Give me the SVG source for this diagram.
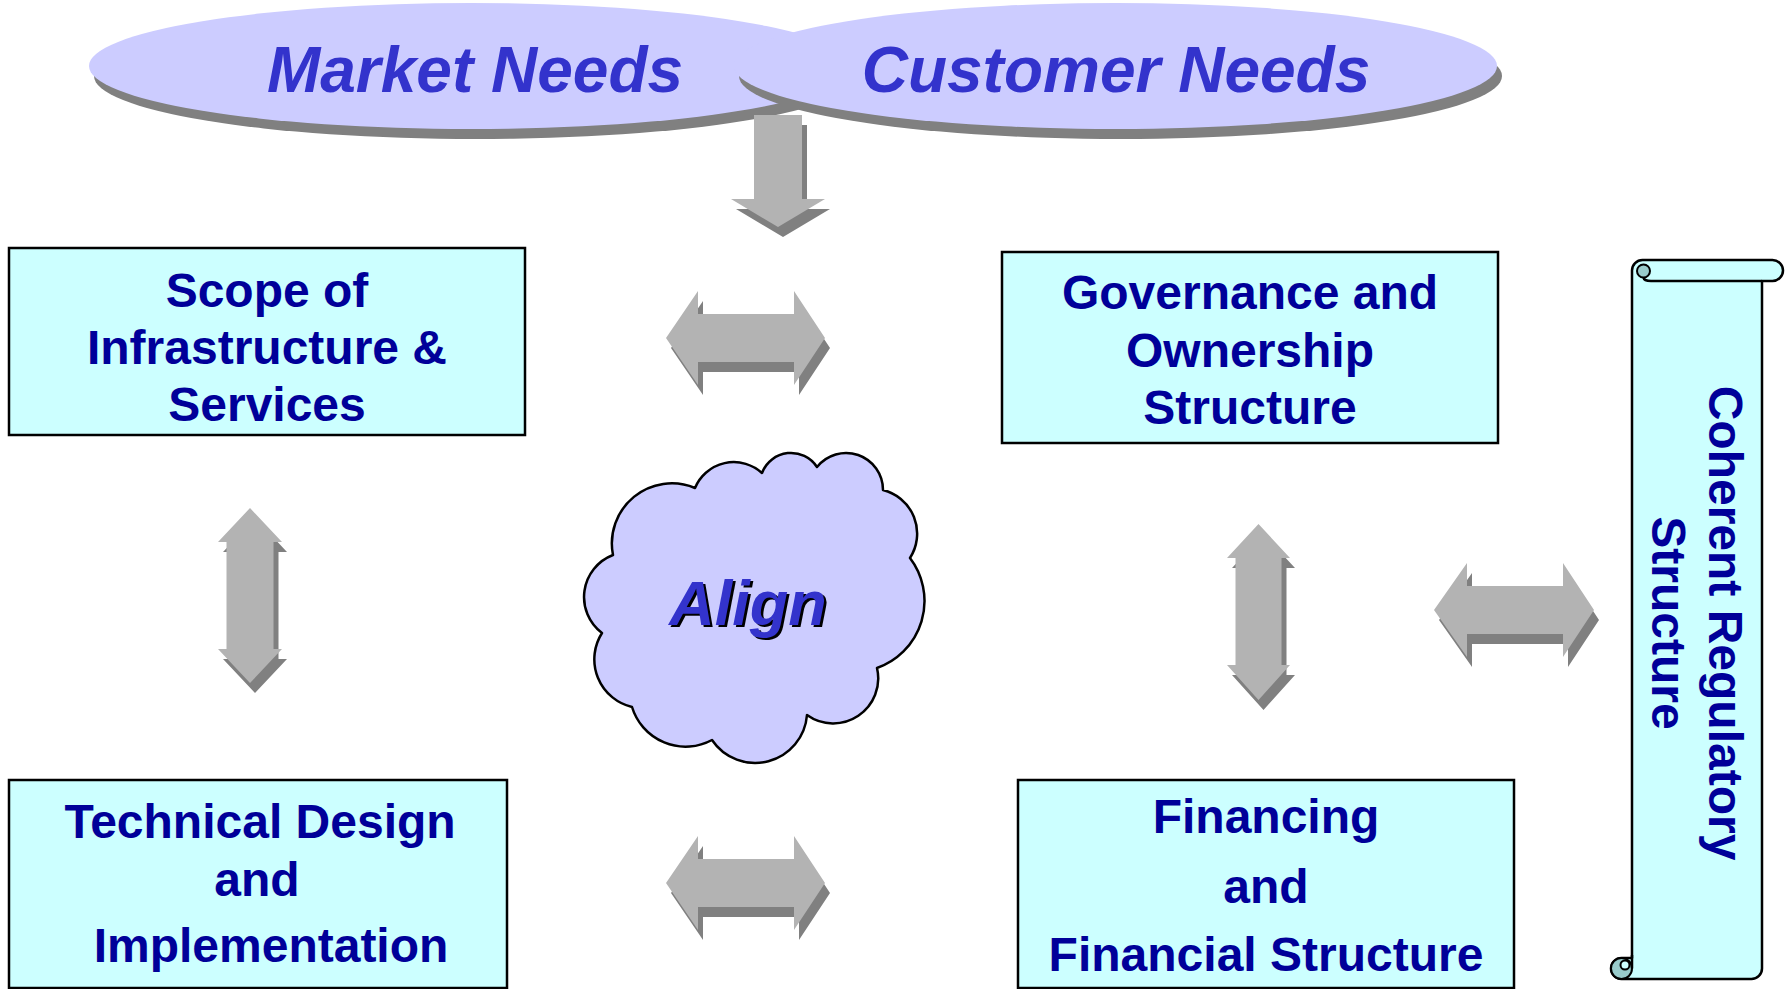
<svg xmlns="http://www.w3.org/2000/svg" xmlns:xlink="http://www.w3.org/1999/xlink" width="1785" height="989" viewBox="0 0 1785 989">
  <style>
    .box { fill: #CCFFFF; stroke: #000000; stroke-width: 2.5; }
    .boxtxt { font-family: "Liberation Sans", Arial, sans-serif; font-weight: bold; font-size: 48px; fill: #000099; text-anchor: middle; }
    .need { fill: #CCCCFF; }
    .needshadow { fill: #808080; }
    .needtxt { font-family: "Liberation Sans", Arial, sans-serif; font-weight: bold; font-style: italic; font-size: 64px; fill: #3333CC; text-anchor: middle; }
    .cloud { fill: #CCCCFF; stroke: #000000; stroke-width: 2.5; stroke-linejoin: round; }
    .aligntxt { font-family: "Liberation Sans", Arial, sans-serif; font-weight: bold; font-style: italic; font-size: 63px; text-anchor: middle; }
    .arrow { fill: #B3B3B3; }
    .arrowshadow { fill: #808080; }
    .scroll { fill: #CCFFFF; stroke: #000000; stroke-width: 2.5; stroke-linejoin: round; }
    .curl { fill: #99CCCC; stroke: #000000; stroke-width: 2; }
    .line { fill: none; stroke: #000000; stroke-width: 2.5; }
  </style>
  <defs>
    <!-- block arrow outlines; fill comes from the using element -->
    <polygon id="arrDown" points="754,115 802,115 802,199 825,199 778,227 731,199 754,199"/>
    <polygon id="arrTop" points="666,338 698,291 698,314 794,314 794,291 825,338 794,385 794,362 698,362 698,385"/>
    <polygon id="arrBottom" points="666,883 698,836 698,859 794,859 794,836 825,883 794,930 794,907 698,907 698,930"/>
    <polygon id="arrLeftV" points="250,508 282,542 273.5,542 273.5,649 282,649 250,683 218,649 226.5,649 226.5,542 218,542"/>
    <polygon id="arrRightV" points="1258.5,524 1290,558 1281.5,558 1281.5,665 1290,665 1258.5,700 1227,665 1235.5,665 1235.5,558 1227,558"/>
    <polygon id="arrRightH" points="1434,610 1467,563 1467,586 1563,586 1563,563 1594,610 1563,657 1563,634 1467,634 1467,657"/>
  </defs>

  <rect width="1785" height="989" fill="#FFFFFF"/>

  <!-- top ellipses -->
  <g id="market-needs">
    <ellipse class="needshadow" cx="476" cy="76" rx="382" ry="63"/>
    <ellipse class="need" cx="471" cy="66" rx="382" ry="63"/>
    <text class="needtxt" x="475" y="92">Market Needs</text>
  </g>
  <g id="customer-needs">
    <ellipse class="needshadow" cx="1120.5" cy="76" rx="381.5" ry="63"/>
    <ellipse class="need" cx="1115.5" cy="66" rx="381.5" ry="63"/>
    <text class="needtxt" x="1116" y="92">Customer Needs</text>
  </g>

  <!-- boxes -->
  <g id="scope">
    <rect class="box" x="9" y="248" width="516" height="187"/>
    <text class="boxtxt" x="267" y="307">Scope of</text>
    <text class="boxtxt" x="267" y="364">Infrastructure &amp;</text>
    <text class="boxtxt" x="267" y="421">Services</text>
  </g>
  <g id="governance">
    <rect class="box" x="1002" y="252" width="496" height="191"/>
    <text class="boxtxt" x="1250" y="309">Governance and</text>
    <text class="boxtxt" x="1250" y="367">Ownership</text>
    <text class="boxtxt" x="1250" y="424">Structure</text>
  </g>
  <g id="technical">
    <rect class="box" x="9" y="780" width="498" height="208"/>
    <text class="boxtxt" x="260" y="838">Technical Design</text>
    <text class="boxtxt" x="257" y="896">and</text>
    <text class="boxtxt" x="271" y="962">Implementation</text>
  </g>
  <g id="financing">
    <rect class="box" x="1018" y="780" width="496" height="208"/>
    <text class="boxtxt" x="1266" y="833">Financing</text>
    <text class="boxtxt" x="1266" y="903">and</text>
    <text class="boxtxt" x="1266" y="971">Financial Structure</text>
  </g>

  <!-- central cloud -->
  <g id="align">
    <path class="cloud" d="M695,488 A42,42 0 0 1 762,473 A31,31 0 0 1 817,467 A37,37 0 0 1 883,490 A45,45 0 0 1 910,558 A71,71 0 0 1 877,668 A45,45 0 0 1 807,715 A52,52 0 0 1 712,740 A56,56 0 0 1 632,707 A49,49 0 0 1 602,633 A45,45 0 0 1 613,555 A60,60 0 0 1 695,488 Z"/>
    <text class="aligntxt" x="750.5" y="627" fill="#000000">Align</text>
    <text class="aligntxt" x="748" y="624.5" fill="#3333CC">Align</text>
  </g>

  <!-- vertical scroll -->
  <g id="regulatory">
    <path class="scroll" d="M1642.5,260 L1772.5,260 A10.5,10.5 0 0 1 1772.5,281 L1762,281 L1762,968.5 A10.5,10.5 0 0 1 1751.5,979 L1621.5,979 A10.5,10.5 0 0 1 1621.5,958 L1632,958 L1632,270.5 A10.5,10.5 0 0 1 1642.5,260 Z"/>
    <circle class="curl" cx="1643.5" cy="271" r="6.5"/>
    <path class="line" d="M1643.5,277.5 Q1644,281 1651,281 L1762,281"/>
    <circle class="curl" cx="1621.5" cy="968.5" r="10.5"/>
    <circle cx="1625" cy="965" r="4.5" fill="#CCFFFF" stroke="#000000" stroke-width="2"/>
    <path class="line" d="M1632,955 L1632,968.5"/>
    <text class="boxtxt" transform="translate(1709,623) rotate(90)">Coherent Regulatory</text>
    <text class="boxtxt" transform="translate(1652,623) rotate(90)">Structure</text>
  </g>

  <!-- connectors: shaded block arrows -->
  <g id="connectors">
    <use xlink:href="#arrDown" class="arrowshadow" transform="translate(5,10)"/>
    <use xlink:href="#arrDown" class="arrow"/>
    <use xlink:href="#arrTop" class="arrowshadow" transform="translate(5,10)"/>
    <use xlink:href="#arrTop" class="arrow"/>
    <use xlink:href="#arrBottom" class="arrowshadow" transform="translate(5,10)"/>
    <use xlink:href="#arrBottom" class="arrow"/>
    <use xlink:href="#arrLeftV" class="arrowshadow" transform="translate(5,10)"/>
    <use xlink:href="#arrLeftV" class="arrow"/>
    <use xlink:href="#arrRightV" class="arrowshadow" transform="translate(5,10)"/>
    <use xlink:href="#arrRightV" class="arrow"/>
    <use xlink:href="#arrRightH" class="arrowshadow" transform="translate(5,10)"/>
    <use xlink:href="#arrRightH" class="arrow"/>
  </g>
</svg>
